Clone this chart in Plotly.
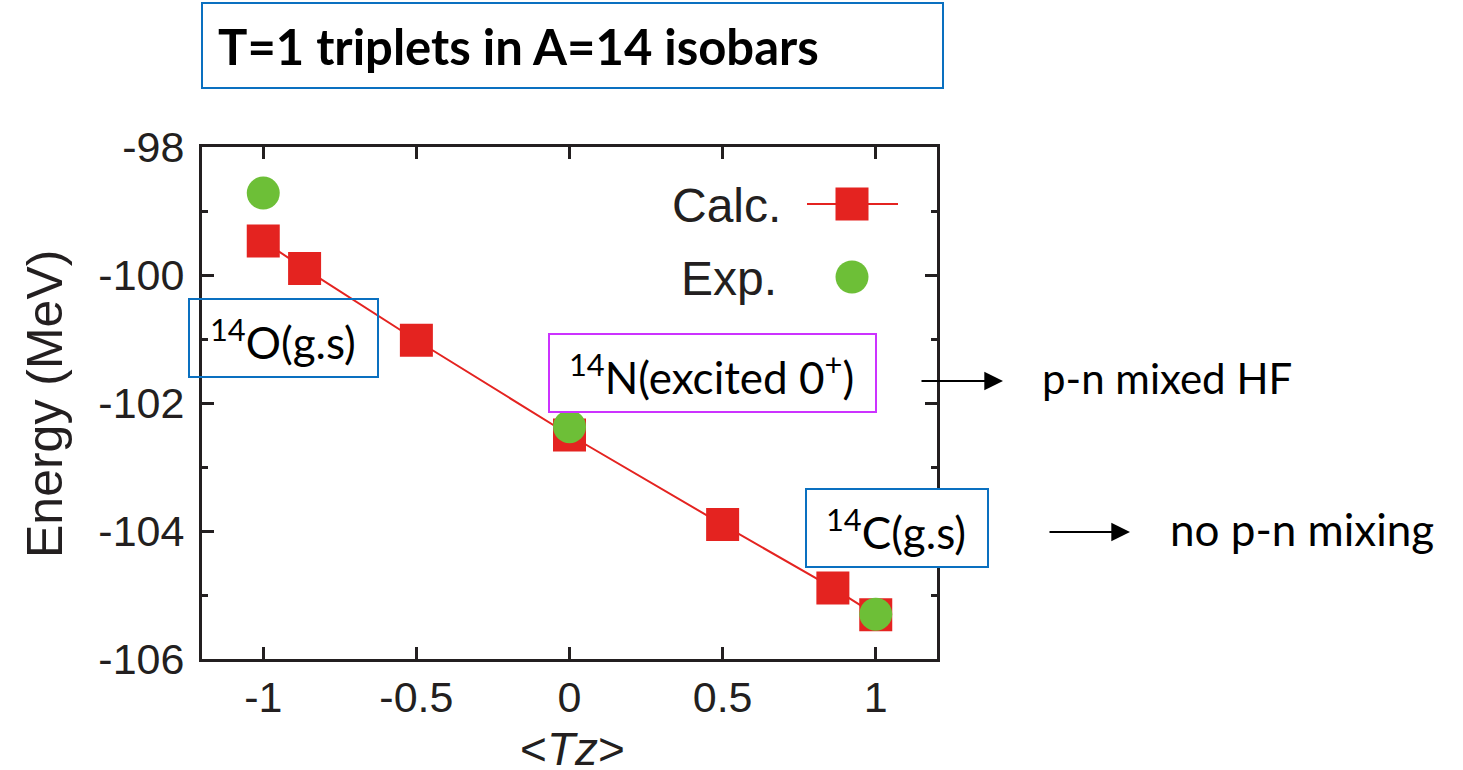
import plotly.graph_objects as go

# ---- data ----
calc_tz = [-1.0, -0.865, -0.5, 0.0, 0.5, 0.86, 1.0]
calc_energy = [-99.47, -99.90, -101.02, -102.50, -103.90, -104.89, -105.31]
exp_tz = [-1.0, 0.0, 1.0]
exp_energy = [-98.72, -102.37, -105.30]
x_ticks = [-1, -0.5, 0, 0.5, 1]
y_ticks = [-106, -104, -102, -100, -98]

RED = "#e42320"
GREEN = "#6dbf37"
AX = "#231f20"
BLUE = "#0a70c0"
MAGENTA = "#cc33ff"

W, H = 1463, 770
L, R, T, B = 202, 937, 147, 659  # plot area pixel box


def px(xp):
    return (xp - L) / (R - L)


def py(yp):
    return (B - yp) / (B - T)


fig = go.Figure()
fig.add_trace(go.Scatter(x=calc_tz, y=calc_energy, mode="lines+markers",
                         line=dict(color=RED, width=2),
                         marker=dict(symbol="square", size=33, color=RED, line=dict(width=0)),
                         name="Calc.", showlegend=False))
fig.add_trace(go.Scatter(x=exp_tz, y=exp_energy, mode="markers",
                         marker=dict(symbol="circle", size=33, color=GREEN, line=dict(width=0)),
                         name="Exp.", showlegend=False))

axis_font = dict(family="Liberation Sans, Arial", size=43, color=AX)
fig.update_xaxes(range=[-1.2, 1.2], tickvals=x_ticks, ticktext=[str(v) for v in x_ticks],
                 showgrid=False, zeroline=False, showline=True, mirror="ticks",
                 linecolor=AX, linewidth=3, ticks="inside", ticklen=12, tickwidth=3,
                 tickcolor=AX, tickfont=axis_font, ticklabelstandoff=-2)
fig.update_yaxes(range=[-106, -98], tickvals=y_ticks, ticktext=[str(v) for v in y_ticks],
                 showgrid=False, zeroline=False,
                 showline=True, mirror="ticks", linecolor=AX, linewidth=3,
                 ticks="inside", ticklen=12, tickwidth=3, tickcolor=AX,
                 tickfont=axis_font, ticklabelstandoff=6,
                 minor=dict(dtick=1, tick0=-105, ticks="inside", ticklen=6, tickwidth=3,
                            tickcolor=AX, showgrid=False))

shapes = []
annotations = []

# title box
shapes.append(dict(type="rect", xref="paper", yref="paper", x0=px(202), x1=px(943),
                   y0=py(88), y1=py(3), line=dict(color=BLUE, width=2)))
annotations.append(dict(xref="paper", yref="paper", x=px(216), y=py(46), xanchor="left",
                        yanchor="middle", showarrow=False,
                        text="<b>T=1 triplets in A=14 isobars</b>",
                        font=dict(family="Lato", size=49, color="#000000")))

# 14O box (transparent)
shapes.append(dict(type="rect", xref="paper", yref="paper", x0=px(189), x1=px(378),
                   y0=py(377), y1=py(299), line=dict(color=BLUE, width=2), layer="above"))
annotations.append(dict(xref="paper", yref="paper", x=px(208), y=py(339), xanchor="left",
                        yanchor="middle", showarrow=False, text="<sup>14</sup>O(g.s)",
                        font=dict(family="Lato", size=44, color="#000000")))

# 14N box
shapes.append(dict(type="rect", xref="paper", yref="paper", x0=px(549), x1=px(876),
                   y0=py(412), y1=py(334), line=dict(color=MAGENTA, width=2),
                   fillcolor="white", layer="above"))
annotations.append(dict(xref="paper", yref="paper", x=px(711), y=py(374), xanchor="center",
                        yanchor="middle", showarrow=False, text="<sup>14</sup>N(excited 0<sup>+</sup>)",
                        font=dict(family="Lato", size=44, color="#000000")))

# 14C box
shapes.append(dict(type="rect", xref="paper", yref="paper", x0=px(806), x1=px(988),
                   y0=py(567), y1=py(489), line=dict(color=BLUE, width=2),
                   fillcolor="white", layer="above"))
annotations.append(dict(xref="paper", yref="paper", x=px(896), y=py(529), xanchor="center",
                        yanchor="middle", showarrow=False, text="<sup>14</sup>C(g.s)",
                        font=dict(family="Lato", size=44, color="#000000")))

# arrows + side texts
for (x0, x1, y, txt, tx, fs) in [(920, 1003, 381, "p-n mixed HF", 1040, 42),
                                 (1048, 1130, 532, "no p-n mixing", 1168, 44)]:
    annotations.append(dict(xref="paper", yref="paper", x=px(x1), y=py(y), ax=x0 - x1, ay=0,
                            axref="pixel", ayref="pixel", text="", showarrow=True,
                            arrowhead=2, arrowsize=1.7, arrowwidth=2.2, arrowcolor="#000000",
                            standoff=0, startstandoff=0))
    annotations.append(dict(xref="paper", yref="paper", x=px(tx), y=py(y - 3), xanchor="left",
                            yanchor="middle", showarrow=False, text=txt,
                            font=dict(family="Lato", size=fs, color="#000000")))

# legend (drawn manually: text left, symbol right)
leg_font = dict(family="Liberation Sans, Arial", size=48, color=AX)
annotations.append(dict(xref="paper", yref="paper", x=px(783), y=py(205), xanchor="right",
                        yanchor="middle", showarrow=False, text="Calc.", font=leg_font))
annotations.append(dict(xref="paper", yref="paper", x=px(779), y=py(278), xanchor="right",
                        yanchor="middle", showarrow=False, text="Exp.", font=leg_font))
shapes.append(dict(type="line", xref="paper", yref="paper", x0=px(807), x1=px(898),
                   y0=py(204), y1=py(204), line=dict(color=RED, width=2)))
shapes.append(dict(type="rect", xref="paper", yref="paper", x0=px(835.5), x1=px(868.5),
                   y0=py(220.5), y1=py(187.5), fillcolor=RED, line=dict(width=0)))
shapes.append(dict(type="circle", xref="paper", yref="paper", x0=px(835.5), x1=px(868.5),
                   y0=py(293.5), y1=py(260.5), fillcolor=GREEN, line=dict(width=0)))

# axis titles
annotations.append(dict(xref="paper", yref="paper", x=px(45), y=py(404), xanchor="center",
                        yanchor="middle", showarrow=False, text="Energy (MeV)", textangle=-90,
                        font=dict(family="Liberation Sans, Arial", size=50, color=AX)))
annotations.append(dict(xref="paper", yref="paper", x=px(572), y=py(749), xanchor="center",
                        yanchor="middle", showarrow=False, text="&lt;<i>Tz</i>&gt;",
                        font=dict(family="Liberation Sans, Arial", size=46, color=AX)))

fig.update_layout(width=W, height=H, margin=dict(l=L, r=W - R, t=T, b=H - B),
                  paper_bgcolor="white", plot_bgcolor="white",
                  shapes=shapes, annotations=annotations, showlegend=False)

fig.write_html("out.html")
